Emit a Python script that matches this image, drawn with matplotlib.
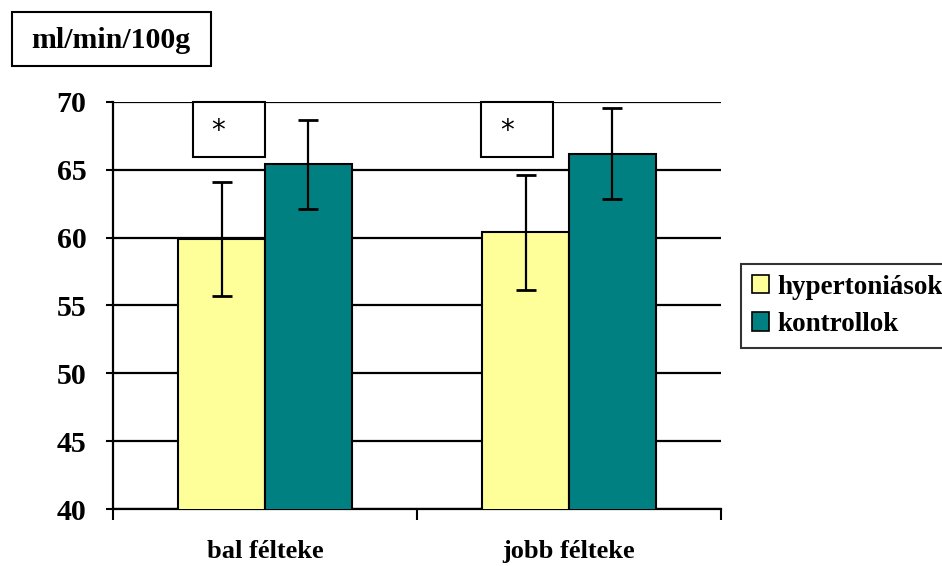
import matplotlib
matplotlib.use("Agg")
import matplotlib.pyplot as plt
from matplotlib.patches import Rectangle, Patch
import numpy as np

plt.rcParams['font.family'] = ['Liberation Serif', 'DejaVu Serif']
plt.rcParams['font.weight'] = 'bold'

categories = ["bal félteke", "jobb félteke"]
series_names = ["hypertoniások", "kontrollok"]
hypert = [59.9, 60.4]
hypert_err = [4.2, 4.25]
kontroll = [65.4, 66.2]
kontroll_err = [3.3, 3.35]
colors = ["#FFFF99", "#008080"]
yticks = [40, 45, 50, 55, 60, 65, 70]
ylabel_text = "ml/min/100g"
star_text = "*"

fig = plt.figure(figsize=(9.42, 5.66), dpi=100)
ax = fig.add_axes([113/942, 1-509/566, (721-113)/942, (509-102)/566])

x = np.arange(len(categories))
w = 0.286
ax.bar(x - w/2, hypert, width=w, color=colors[0], edgecolor='black', linewidth=1.5, zorder=3)
ax.bar(x + w/2, kontroll, width=w, color=colors[1], edgecolor='black', linewidth=1.5, zorder=3)
ax.errorbar(x - w/2, hypert, yerr=hypert_err, fmt='none', ecolor='black', elinewidth=1.6, capsize=7, capthick=2, zorder=4)
ax.errorbar(x + w/2, kontroll, yerr=kontroll_err, fmt='none', ecolor='black', elinewidth=1.6, capsize=7, capthick=2, zorder=4)

ax.set_xlim(-0.5, 1.5)
ax.set_ylim(40, 70)
ax.set_yticks(yticks)
ax.set_yticklabels([str(t) for t in yticks], fontsize=21.5, fontweight='bold')
ax.yaxis.grid(True, color='black', linewidth=1.6, zorder=1)
ax.set_axisbelow(True)
ax.tick_params(axis='y', length=5, width=1.5, direction='out', pad=14)

ax.set_xticks([-0.5, 0.5, 1.5])
ax.set_xticklabels([])
ax.tick_params(axis='x', which='major', length=8, width=1.5, direction='out')
ax.set_xticks(x, minor=True)
ax.set_xticklabels(categories, minor=True, fontsize=19, fontweight='bold')
ax.tick_params(axis='x', which='minor', length=0, pad=22)

for s in ['top', 'right']:
    ax.spines[s].set_visible(False)
for s in ['left', 'bottom']:
    ax.spines[s].set_linewidth(1.6)
ax.spines['left'].set_zorder(5)

# significance boxes
box_x0 = [-0.238, -0.288]
box_x1 = [0.0, -0.051]
for i in range(len(categories)):
    r = Rectangle((x[i] + box_x0[i], 65.94), box_x1[i] - box_x0[i], 70 - 65.94,
                  facecolor='white', edgecolor='black', linewidth=1.5, zorder=5, clip_on=False)
    ax.add_patch(r)
    ax.text(x[i] + box_x0[i] + 0.085, 67.85, star_text, fontsize=20, fontweight='normal',
            family='DejaVu Sans', ha='center', va='center', zorder=6)

# ylabel box
fig.patches.append(Rectangle((12/942, 1-66/566), (211-12)/942, (66-12)/566,
                             transform=fig.transFigure, facecolor='white', edgecolor='black',
                             linewidth=1.5))
fig.text(111/942, 1-40/566, ylabel_text, fontsize=21.5, fontweight='bold', ha='center', va='center')

handles = [Patch(facecolor=colors[0], edgecolor='black', linewidth=1.2),
           Patch(facecolor=colors[1], edgecolor='black', linewidth=1.2)]
leg = fig.legend(handles, series_names, loc='upper left', bbox_to_anchor=(741/942, 1-264/566),
                 prop={'family': 'Liberation Serif', 'weight': 'bold', 'size': 19.5},
                 frameon=True, fancybox=False, handlelength=0.65, handleheight=0.65,
                 handletextpad=0.3, borderpad=0.4, labelspacing=0.45, borderaxespad=0)
leg.get_frame().set_edgecolor('black')
leg.get_frame().set_linewidth(1.5)

fig.savefig("out.png", dpi=100)
